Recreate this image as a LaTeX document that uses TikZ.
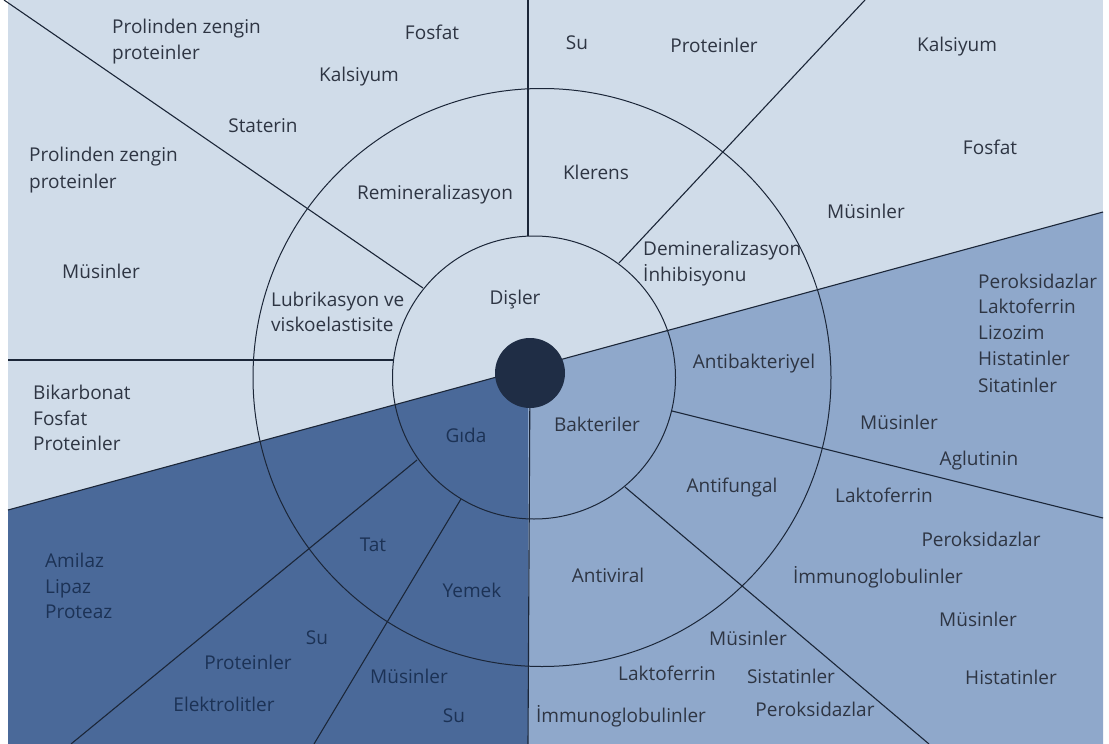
\documentclass[tikz,border=0pt]{standalone}
\usepackage{fontspec}
\setmainfont{Open Sans}
\definecolor{light}{HTML}{D0DCE9}
\definecolor{medium}{HTML}{8FA8CB}
\definecolor{darkb}{HTML}{4A6999}
\definecolor{hub}{HTML}{1F2D45}
\definecolor{ink}{HTML}{1B2638}
\definecolor{txt}{HTML}{2E3543}
\definecolor{txtd}{HTML}{1C3255}
\newcommand{\lblfont}{\fontsize{19}{23}\selectfont}
\tikzset{
  lbl/.style={font=\lblfont, text=txt, inner sep=0pt, anchor=base},
  lblw/.style={lbl, anchor=base west},
  dlbl/.style={lbl, text=txtd},
  dlblw/.style={lblw, text=txtd},
  spoke/.style={draw=ink, line width=1.1pt},
  ring/.style={draw=ink, line width=1pt}
}
\begin{document}
\begin{tikzpicture}[x=1pt,y=-1pt]
\useasboundingbox (0,0) rectangle (1109,744);
% key points
\coordinate (LL) at (8,510);
\coordinate (RR) at (1103,212);
\coordinate (VC) at (528,368.6);
\coordinate (Ci) at (534,377.5);
\coordinate (Co) at (542,377.5);
\coordinate (Ch) at (530,373);
% regions
\fill[light] (8,0) rectangle (1103,744);
\fill[darkb] (LL) -- (VC) -- (528,744) -- (8,744) -- cycle;
\fill[medium] (VC) -- (RR) -- (1103,744) -- (528,744) -- cycle;
% rings
\draw[ring] (Ci) circle[radius=141.5pt];
\draw[ring] (Co) circle[radius=289pt];
% spokes
\coordinate (vt) at (528,0);
\coordinate (vi) at (528,236);
\coordinate (vb) at (528,744);
\coordinate (ulo) at (4,0);
\coordinate (uli) at (423,288);
\coordinate (hlo) at (8,360);
\coordinate (hli) at (393,360);
\coordinate (uro) at (865,0);
\coordinate (uri) at (619,263);
\coordinate (r1o) at (1103,518);
\coordinate (r1i) at (672,411);
\coordinate (r2o) at (929,744);
\coordinate (r2i) at (625,487);
\coordinate (l1o) at (71,744);
\coordinate (l1i) at (417,460);
\coordinate (l2o) at (314,744);
\coordinate (l2i) at (461,499);
\draw[spoke] (LL) -- (RR);
\draw[spoke] (vt) -- (vi);
\draw[spoke] (Ch) -- (vb);
\draw[spoke] (ulo) -- (uli);
\draw[spoke] (hlo) -- (hli);
\draw[spoke] (uro) -- (uri);
\draw[spoke] (r1o) -- (r1i);
\draw[spoke] (r2o) -- (r2i);
\draw[spoke] (l1o) -- (l1i);
\draw[spoke] (l2o) -- (l2i);
% hub
\fill[hub] (Ch) circle[radius=35pt];
% light region labels
\node[lblw] (t1a) at (112,34) {Prolinden zengin};
\node[lblw] (t1b) at (112,59) {proteinler};
\node[lbl] (t2) at (432,39) {Fosfat};
\node[lbl] (t3) at (359,81) {Kalsiyum};
\node[lbl] (t4) at (263,132) {Staterin};
\node[lblw] (t5a) at (29,161) {Prolinden zengin};
\node[lblw] (t5b) at (29,188) {proteinler};
\node[lbl] (t6) at (435,199) {Remineralizasyon};
\node[lbl] (t7) at (101,278) {Müsinler};
\node[lblw] (t8a) at (271,306) {Lubrikasyon ve};
\node[lblw] (t8b) at (271,331) {viskoelastisite};
\node[lbl] (t9) at (515,304) {Dişler};
\node[lbl] (t10) at (577,49) {Su};
\node[lbl] (t11) at (714,52) {Proteinler};
\node[lbl] (t12) at (957,51) {Kalsiyum};
\node[lbl] (t13) at (596,179) {Klerens};
\node[lbl] (t14) at (990,154) {Fosfat};
\node[lbl] (t15) at (866,218) {Müsinler};
\node[lblw] (t16a) at (643,255) {Demineralizasyon};
\node[lblw] (t16b) at (643,281) {İnhibisyonu};
\node[lblw] (t17a) at (33,399) {Bikarbonat};
\node[lblw] (t17b) at (33,425) {Fosfat};
\node[lblw] (t17c) at (33,450) {Proteinler};
% medium region labels
\node[lblw] (m1a) at (978,288) {Peroksidazlar};
\node[lblw] (m1b) at (978,313) {Laktoferrin};
\node[lblw] (m1c) at (978,339) {Lizozim};
\node[lblw] (m1d) at (978,365) {Histatinler};
\node[lblw] (m1e) at (978,392) {Sitatinler};
\node[lbl] (m2) at (754,368) {Antibakteriyel};
\node[lbl] (m3) at (597,431) {Bakteriler};
\node[lbl] (m4) at (899,429) {Müsinler};
\node[lbl] (m5) at (979,465) {Aglutinin};
\node[lbl] (m6) at (732,492) {Antifungal};
\node[lbl] (m7) at (884,502) {Laktoferrin};
\node[lbl] (m8) at (981,546) {Peroksidazlar};
\node[lbl] (m9) at (608,582) {Antiviral};
\node[lbl] (m10) at (878,583) {İmmunoglobulinler};
\node[lbl] (m11) at (978,626) {Müsinler};
\node[lbl] (m12) at (748,645) {Müsinler};
\node[lbl] (m13) at (667,680) {Laktoferrin};
\node[lbl] (m14) at (791,683) {Sistatinler};
\node[lbl] (m15) at (1011,684) {Histatinler};
\node[lbl] (m16) at (815,716) {Peroksidazlar};
\node[lbl] (m17) at (621,722) {İmmunoglobulinler};
% dark region labels
\node[dlbl] (d1) at (466,442) {Gıda};
\node[dlblw] (d2a) at (45,567) {Amilaz};
\node[dlblw] (d2b) at (45,593) {Lipaz};
\node[dlblw] (d2c) at (45,618) {Proteaz};
\node[dlbl] (d3) at (373,551) {Tat};
\node[dlbl] (d4) at (472,597) {Yemek};
\node[dlbl] (d5) at (317,644) {Su};
\node[dlbl] (d6) at (248,669) {Proteinler};
\node[dlbl] (d7) at (409,683) {Müsinler};
\node[dlbl] (d8) at (224,711) {Elektrolitler};
\node[dlbl] (d9) at (454,722) {Su};
\end{tikzpicture}
\end{document}
